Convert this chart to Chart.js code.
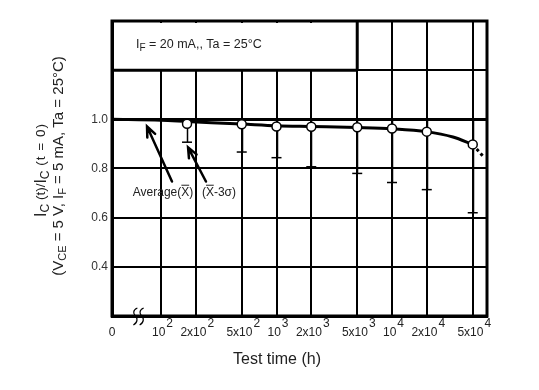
<!DOCTYPE html>
<html>
<head>
<meta charset="utf-8">
<script src="https://cdn.jsdelivr.net/npm/chart.js@4.4.1/dist/chart.umd.min.js"></script>
<style>
  html, body { margin: 0; padding: 0; background: #fff; }
  canvas { display: block; }
</style>
</head>
<body>
<canvas id="degradationChart" width="539" height="390"></canvas>
<script>
// values
const testHours = [168, 500, 1000, 2000, 5000, 10000, 20000, 50000];
const averageRatio = [0.982, 0.98, 0.971, 0.97, 0.968, 0.963, 0.95, 0.898];
const minus3SigmaRatio = [0.907, 0.867, 0.844, 0.807, 0.78, 0.743, 0.714, 0.62];
const maxRatio = [1, 1, 1, 1, 1, 1, 1, 1];

// the smooth curve drawn through the averages, and its dotted extension
const curveHours = [37.7, 100, 168, 500, 1000, 2000, 5000, 10000, 20000, 33700, 50000];
const curveRatio = [1.0, 0.996, 0.991, 0.981, 0.974, 0.971, 0.967, 0.962, 0.95, 0.928, 0.898];
const extrapHours = [50000, 62700];
const extrapRatio = [0.898, 0.845];

const xTickValues = [100, 200, 500, 1000, 2000, 5000, 10000, 20000, 50000];
const xTickBase = ["10", "2x10", "5x10", "10", "2x10", "5x10", "10", "2x10", "5x10"];
const xTickExp = ["2", "2", "2", "3", "3", "3", "4", "4", "4"];
const yTickValues = [0.4, 0.6, 0.8, 1.0];

const FONT = '"Liberation Sans", Arial, sans-serif';
const TEXT = "#222";

const toXY = (xs, ys) => xs.map((x, i) => ({ x: x, y: ys[i] }));

// draws a run of text pieces (sub/superscripts, overlines) on one baseline
function drawParts(ctx, parts, x, y, align) {
  let total = 0;
  parts.forEach((p) => {
    ctx.font = p.size + "px " + FONT;
    p.w = ctx.measureText(p.t).width + (p.sp || 0) * p.t.length;
    total += p.w;
  });
  let cx = align === "center" ? x - total / 2 : x;
  ctx.textAlign = "left";
  ctx.textBaseline = "alphabetic";
  parts.forEach((p) => {
    ctx.font = p.size + "px " + FONT;
    const by = y + (p.dy || 0);
    if (p.sp) {
      let px = cx;
      for (const ch of p.t) {
        ctx.fillText(ch, px, by);
        px += ctx.measureText(ch).width + p.sp;
      }
    } else {
      ctx.fillText(p.t, cx, by);
    }
    if (p.bar) {
      ctx.save();
      ctx.lineWidth = 1;
      ctx.strokeStyle = ctx.fillStyle;
      ctx.beginPath();
      ctx.moveTo(cx + 0.5, by - p.size * 0.86);
      ctx.lineTo(cx + p.w - 0.5, by - p.size * 0.86);
      ctx.stroke();
      ctx.restore();
    }
    cx += p.w;
  });
}

const decorPlugin = {
  id: "decor",
  beforeDatasetsDraw(chart) {
    const { ctx, chartArea: a, scales } = chart;
    const xs = scales.x, ys = scales.y;
    ctx.save();
    // condition box in the upper left
    const bx = xs.getPixelForValue(5000);
    const by = ys.getPixelForValue(1.2);
    ctx.fillStyle = "#fff";
    ctx.fillRect(a.left + 2, a.top + 2, bx - a.left - 3, by - a.top - 3);
    ctx.strokeStyle = "#000";
    ctx.lineWidth = 3;
    ctx.beginPath();
    ctx.moveTo(a.left, by);
    ctx.lineTo(bx, by);
    ctx.moveTo(bx, a.top);
    ctx.lineTo(bx, by);
    ctx.stroke();
    ctx.fillStyle = TEXT;
    drawParts(ctx, [
      { t: "I", size: 12.5 },
      { t: "F", size: 10, dy: 3 },
      { t: " = 20 mA,, Ta = 25\u00b0C", size: 12.5 }
    ], a.left + 24, a.top + 27, "left");

    // error bars from max to (X-3sigma)
    ctx.lineWidth = 1.5;
    ctx.beginPath();
    testHours.forEach((h, i) => {
      const px = Math.round(xs.getPixelForValue(h)) + 0.5;
      ctx.moveTo(px, ys.getPixelForValue(maxRatio[i]));
      ctx.lineTo(px, ys.getPixelForValue(minus3SigmaRatio[i]));
    });
    ctx.stroke();

    // frame top and right
    ctx.lineWidth = 3;
    ctx.strokeRect(a.left, a.top, a.right - a.left, a.bottom - a.top);
    ctx.restore();
  },
  afterDraw(chart) {
    const { ctx, chartArea: a, scales } = chart;
    const xs = scales.x, ys = scales.y;
    ctx.save();
    ctx.fillStyle = TEXT;

    // x tick labels with exponents
    const base = a.bottom + 20;
    ctx.font = "12px " + FONT;
    ctx.textAlign = "center";
    ctx.fillText("0", a.left, base);
    xTickValues.forEach((v, i) => {
      const px = xs.getPixelForValue(v) + 1;
      ctx.font = "12px " + FONT;
      const wb = ctx.measureText(xTickBase[i]).width;
      const we = ctx.measureText(xTickExp[i]).width;
      const left = px - (wb + we) / 2;
      ctx.textAlign = "left";
      ctx.fillText(xTickBase[i], left, base);
      ctx.fillText(xTickExp[i], left + wb + 1, base - 9);
    });

    // axis break on the time axis
    ctx.strokeStyle = "#000";
    ctx.lineWidth = 1.2;
    [60, 68].forEach((h) => {
      const x = xs.getPixelForValue(h);
      const y = a.bottom;
      ctx.beginPath();
      ctx.moveTo(x + 2, y - 8);
      ctx.bezierCurveTo(x - 3, y - 6, x - 2, y - 2, x, y);
      ctx.bezierCurveTo(x + 2, y + 2, x + 3, y + 6, x - 2, y + 9);
      ctx.stroke();
    });

    // axis titles
    ctx.font = "16px " + FONT;
    ctx.textAlign = "center";
    ctx.fillText("Test time (h)", a.left + 165, a.bottom + 48);

    ctx.save();
    ctx.translate(46, 170);
    ctx.rotate(-Math.PI / 2);
    drawParts(ctx, [
      { t: "I", size: 16 },
      { t: "C", size: 12, dy: 3 },
      { t: " (t)/", size: 13.5, dy: -1 },
      { t: "I", size: 16 },
      { t: "C", size: 12, dy: 3 },
      { t: " (t = 0)", size: 13.5, dy: -1, sp: 1 }
    ], 0, 0, "center");
    ctx.restore();

    ctx.save();
    ctx.translate(63, 166);
    ctx.rotate(-Math.PI / 2);
    drawParts(ctx, [
      { t: "(V", size: 15 },
      { t: "CE", size: 11, dy: 3 },
      { t: " = 5 V, I", size: 15 },
      { t: "F", size: 11, dy: 3 },
      { t: " = 5 mA, Ta = 25\u00b0C)", size: 15 }
    ], 0, 0, "center");
    ctx.restore();

    // arrows pointing at the curve and at the -3 sigma mark
    const arrows = [
      { from: [124.5, 0.747], to: [75.7, 0.971] },
      { from: [245, 0.747], to: [171.5, 0.886] }
    ];
    ctx.lineWidth = 2.5;
    ctx.lineCap = "round";
    arrows.forEach((ar) => {
      const x0 = xs.getPixelForValue(ar.from[0]), y0 = ys.getPixelForValue(ar.from[1]);
      const x1 = xs.getPixelForValue(ar.to[0]), y1 = ys.getPixelForValue(ar.to[1]);
      const ang = Math.atan2(y1 - y0, x1 - x0);
      ctx.beginPath();
      ctx.moveTo(x0, y0);
      ctx.lineTo(x1, y1);
      ctx.moveTo(x1 - 11 * Math.cos(ang - 0.4), y1 - 11 * Math.sin(ang - 0.4));
      ctx.lineTo(x1, y1);
      ctx.lineTo(x1 - 11 * Math.cos(ang + 0.4), y1 - 11 * Math.sin(ang + 0.4));
      ctx.stroke();
    });

    ctx.fillStyle = TEXT;
    const ly = ys.getPixelForValue(0.69);
    drawParts(ctx, [
      { t: "Average(", size: 12 },
      { t: "X", size: 12, bar: true },
      { t: ")", size: 12 }
    ], xs.getPixelForValue(57), ly, "left");
    drawParts(ctx, [
      { t: "(", size: 12 },
      { t: "X", size: 12, bar: true },
      { t: "-3\u03c3)", size: 12 }
    ], xs.getPixelForValue(226), ly, "left");

    ctx.restore();
  }
};

new Chart(document.getElementById("degradationChart"), {
  type: "line",
  data: {
    datasets: [
      {
        label: "max",
        data: toXY(testHours, maxRatio),
        showLine: false,
        pointStyle: "line",
        pointRadius: 5,
        pointBorderWidth: 2,
        borderColor: "#000",
        order: 3
      },
      {
        label: "X-3sigma",
        data: toXY(testHours, minus3SigmaRatio),
        showLine: false,
        pointStyle: "line",
        pointRadius: 5,
        pointBorderWidth: 1.5,
        borderColor: "#000",
        order: 3
      },
      {
        label: "curve",
        data: toXY(curveHours, curveRatio),
        borderColor: "#000",
        borderWidth: 3,
        pointRadius: 0,
        cubicInterpolationMode: "monotone",
        order: 2
      },
      {
        label: "extrapolation",
        data: toXY(extrapHours, extrapRatio),
        borderColor: "#000",
        borderWidth: 3,
        borderDash: [3, 3],
        pointRadius: 0,
        order: 2
      },
      {
        label: "Average",
        data: toXY(testHours, averageRatio),
        showLine: false,
        pointRadius: 4.5,
        pointBackgroundColor: "#fff",
        pointBorderColor: "#000",
        pointBorderWidth: 1.5,
        order: 1
      }
    ]
  },
  options: {
    responsive: false,
    animation: false,
    layout: { padding: { top: 21, right: 52, left: 0, bottom: 0 } },
    plugins: {
      legend: { display: false },
      tooltip: { enabled: false }
    },
    scales: {
      x: {
        type: "logarithmic",
        min: 37.65,
        max: 66450,
        afterBuildTicks: (s) => { s.ticks = xTickValues.map((v) => ({ value: v })); },
        afterFit: (s) => { s.height = 74; },
        ticks: { display: false },
        grid: { color: "#000", lineWidth: 2, drawTicks: false },
        border: { display: true, color: "#000", width: 3 }
      },
      y: {
        type: "linear",
        min: 0.2,
        max: 1.4,
        afterFit: (s) => { s.width = 112; },
        ticks: {
          stepSize: 0.2,
          padding: 4,
          color: "#333",
          font: { family: FONT, size: 12 },
          callback: (v) => {
            const r = Math.round(v * 10) / 10;
            return yTickValues.includes(r) ? r.toFixed(1) : "";
          }
        },
        grid: {
          color: "#000",
          drawTicks: false,
          lineWidth: (c) => (c.tick && Math.abs(c.tick.value - 1) < 1e-6 ? 3 : 2)
        },
        border: { display: true, color: "#000", width: 3 }
      }
    }
  },
  plugins: [decorPlugin]
});
</script>
</body>
</html>
